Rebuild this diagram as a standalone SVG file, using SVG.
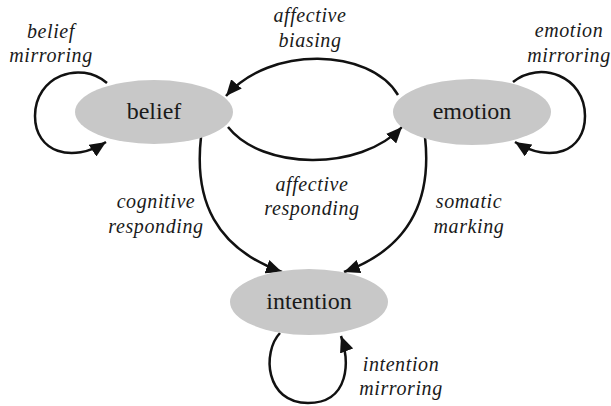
<svg xmlns="http://www.w3.org/2000/svg" width="611" height="406" viewBox="0 0 611 406">
  <defs>
    <marker id="arrow" markerUnits="userSpaceOnUse" markerWidth="18" markerHeight="14" refX="16" refY="7" orient="auto">
      <path d="M0,0 L16,7 L0,14 Z" fill="#111"/>
    </marker>
  </defs>
  <rect width="611" height="406" fill="#fff"/>

  <g id="connectors" fill="none" stroke="#111" stroke-width="2.5" marker-end="url(#arrow)">
    <!-- self loops -->
    <path d="M107,83 C80,60 35,76 35,116 C35,152 72,164 106,142"/>
    <path d="M513,82 C540,60 585,76 585,116 C585,152 550,164 515,142"/>
    <path d="M280,333 C262,352 265,403 308,403 C350,403 350,360 341,336"/>
    <!-- affective biasing: emotion to belief -->
    <path d="M398,95 C370,48 270,45 226,96"/>
    <!-- affective responding: belief to emotion -->
    <path d="M228,127 C262,170 360,172 402,127"/>
    <!-- cognitive responding: belief to intention -->
    <path d="M201,137 C194,200 215,248 282,272"/>
    <!-- somatic marking: emotion to intention -->
    <path d="M425,137 C432,200 410,248 344,272"/>
  </g>

  <g id="belief">
    <ellipse cx="154" cy="112" rx="79" ry="32" fill="#c8c8c8"/>
    <text x="154" y="119" style="font-family:'Liberation Serif',serif;font-size:24px;fill:#1a1a1a;text-anchor:middle">belief</text>
  </g>
  <g id="emotion">
    <ellipse cx="472" cy="112" rx="79" ry="33" fill="#c8c8c8"/>
    <text x="472" y="119" style="font-family:'Liberation Serif',serif;font-size:24px;fill:#1a1a1a;text-anchor:middle">emotion</text>
  </g>
  <g id="intention">
    <ellipse cx="309" cy="302" rx="79" ry="33" fill="#c8c8c8"/>
    <text x="309" y="309" style="font-family:'Liberation Serif',serif;font-size:24px;fill:#1a1a1a;text-anchor:middle">intention</text>
  </g>

  <g id="edge-labels" style="font-family:'Liberation Serif',serif;font-style:italic;font-size:20px;letter-spacing:0.6px;fill:#1a1a1a;text-anchor:middle">
    <text x="51" y="38" style="font-family:'Liberation Serif',serif">belief</text>
    <text x="51" y="62" style="font-family:'Liberation Serif',serif">mirroring</text>
    <text x="310" y="22" style="font-family:'Liberation Serif',serif">affective</text>
    <text x="310" y="47" style="font-family:'Liberation Serif',serif">biasing</text>
    <text x="569" y="37" style="font-family:'Liberation Serif',serif">emotion</text>
    <text x="569" y="62" style="font-family:'Liberation Serif',serif">mirroring</text>
    <text x="312" y="191" style="font-family:'Liberation Serif',serif">affective</text>
    <text x="312" y="215" style="font-family:'Liberation Serif',serif">responding</text>
    <text x="156" y="208" style="font-family:'Liberation Serif',serif">cognitive</text>
    <text x="156" y="233" style="font-family:'Liberation Serif',serif">responding</text>
    <text x="469" y="208" style="font-family:'Liberation Serif',serif">somatic</text>
    <text x="469" y="233" style="font-family:'Liberation Serif',serif">marking</text>
    <text x="401" y="371" style="font-family:'Liberation Serif',serif">intention</text>
    <text x="401" y="395" style="font-family:'Liberation Serif',serif">mirroring</text>
  </g>
</svg>
